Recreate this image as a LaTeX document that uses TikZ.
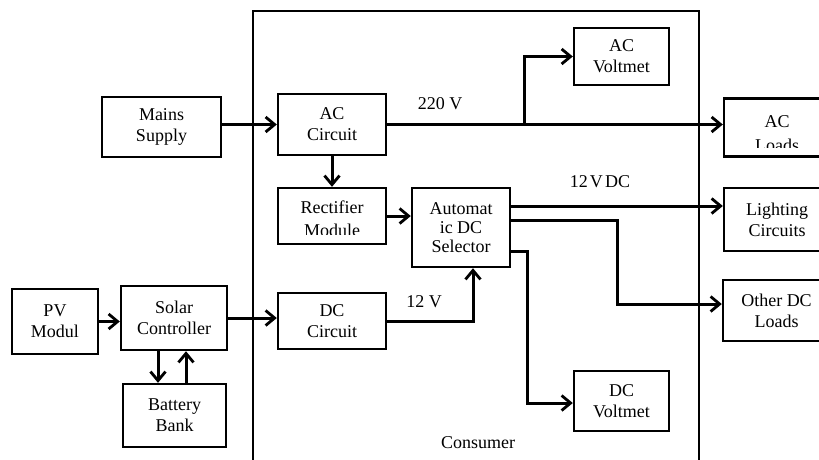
\documentclass[tikz,border=0pt]{standalone}
\usepackage{fontspec}
\setmainfont{Liberation Serif}
\usetikzlibrary{arrows.meta,calc}
\begin{document}
\begin{tikzpicture}[x=1pt,y=-1pt,
  font=\fontsize{18}{21}\selectfont,
  box/.style={draw, line width=2.4pt, inner sep=0pt, align=center},
  lbl/.style={inner sep=0pt},
  txt/.style={inner sep=0pt, anchor=base},
  arr/.style={line width=3pt, -{Straight Barb[length=9pt,width=15pt,line width=2.8pt]}},
  frame/.style={draw, line width=2.2pt}]
\useasboundingbox (0,0) rectangle (819,459);
\fill[white] (0,0) rectangle (819,459);
\clip (0,0) rectangle (819,459);
% consumer frame
\path[frame] (253,11) rectangle (699,480);
% boxes
\node[box, minimum width=119pt, minimum height=60pt] (mains) at (161.5,127) {Mains\\Supply};
\node[box, minimum width=108pt, minimum height=61pt] (ac) at (332,124.5) {AC\\Circuit};
\node[box, minimum width=108pt, minimum height=56pt] (rect) at (332,216) {};
\node[box, minimum width=95pt, minimum height=57pt] (acv) at (621.5,56.5) {AC\\Voltmet};
\node[box, minimum width=106pt, minimum height=58pt] (acl) at (777,127.5) {};
\node[box, minimum width=98pt, minimum height=79pt, font=\fontsize{18}{19}\selectfont] (auto) at (461,227.5) {Automat\\ic DC\\Selector};
\node[box, minimum width=106pt, minimum height=63pt] (light) at (777,219.5) {Lighting\\Circuits};
\node[box, minimum width=107pt, minimum height=61pt] (other) at (776.5,310.5) {Other DC\\Loads};
\node[box, minimum width=86pt, minimum height=65pt] (pv) at (55,321.5) {PV\\Modul};
\node[box, minimum width=106pt, minimum height=64pt] (solar) at (174,318) {Solar\\Controller};
\node[box, minimum width=108pt, minimum height=56pt] (dc) at (332,321) {DC\\Circuit};
\node[box, minimum width=103pt, minimum height=63pt] (bat) at (174.5,415.5) {Battery\\Bank};
\node[box, minimum width=95pt, minimum height=60pt] (dcv) at (621.5,401) {DC\\Voltmet};
% clipped texts
\begin{scope}
\clip ($(rect.north west)+(2,2)$) rectangle (rect.east |- 0,234);
\node[txt] (recttext1) at (332,213) {Rectifier};
\node[txt] (recttext2) at (332,236) {Module};
\end{scope}
\begin{scope}
\clip ($(acl.north west)+(2,2)$) rectangle (acl.east |- 0,147);
\node[txt] (acltext1) at (777,127) {AC};
\node[txt] (acltext2) at (777,151) {Loads};
\end{scope}
% labels
\node[lbl] (v220) at (440,104) {220 V};
\node[lbl] (v12dc) at (600,182) {\spaceskip=0.12em 12 V DC};
\node[lbl] (v12) at (424,302) {12 V};
\node[lbl] (cons) at (478,443) {Consumer};
% connectors
\draw[arr] (mains.east |- ac.west) -- (ac.west);
\draw[arr] (ac.south) -- (rect.north);
\draw[arr] (rect.east) -- (rect.east -| auto.west);
\draw[arr] (ac.east) -- (ac.east -| acl.west);
\coordinate (br1) at (524,124);
\draw[arr] (br1) |- (acv.west);
\coordinate (o1) at ($(auto.east)+(0,-21.5)$);
\draw[arr] (o1) -- (o1 -| light.west);
\coordinate (o2) at ($(auto.east)+(0,-7.5)$);
\coordinate (j2) at (617,304);
\draw[arr] (o2) -| (j2) -- (j2 -| other.west);
\coordinate (o3) at ($(auto.east)+(0,23.5)$);
\coordinate (j3) at (527,403);
\draw[arr] (o3) -| (j3) -- (j3 -| dcv.west);
\draw[arr] (pv.east) -- (pv.east -| solar.west);
\draw[arr] (solar.east) -- (solar.east -| dc.west);
\draw[arr] (dc.east) -| ($(auto.south)+(12,0)$);
\coordinate (d1) at ($(solar.south)+(-16,0)$);
\draw[arr] (d1) -- (d1 |- bat.north);
\coordinate (u1) at ($(bat.north)+(11.5,0)$);
\draw[arr] (u1) -- (u1 |- solar.south);
\end{tikzpicture}
\end{document}
